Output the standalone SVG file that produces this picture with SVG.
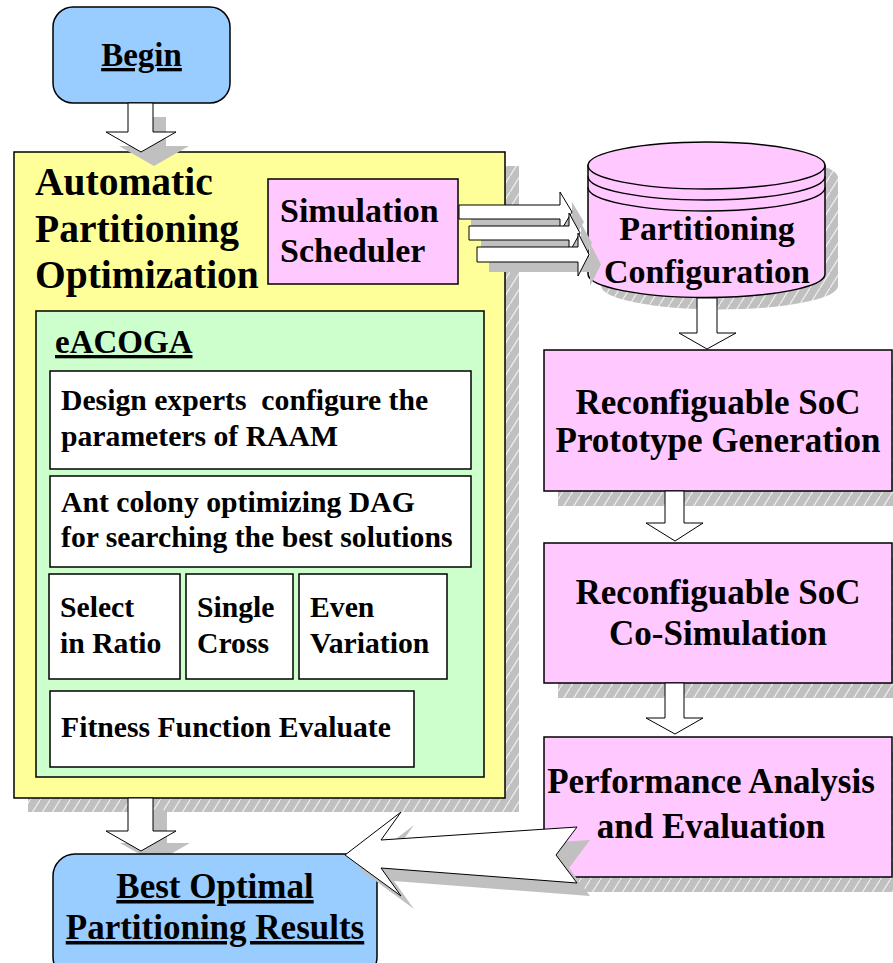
<svg xmlns="http://www.w3.org/2000/svg" width="893" height="963" viewBox="0 0 893 963">
  <defs>
    <pattern id="hatch" patternUnits="userSpaceOnUse" width="10" height="16">
      <rect width="10" height="16" fill="#C0C0C0"/>
      <line x1="0" y1="16" x2="10" y2="0" stroke="#EDEDED" stroke-width="1.2"/>
    </pattern>
  </defs>
  <style>
    text { font-family: "Liberation Serif", "Times New Roman", Tinos, serif; font-weight: bold; fill: #000; }
    .box { stroke: #000; stroke-width: 1.5; }
    .pink { fill: #FFC8FF; }
    .blue { fill: #99CCFF; }
    .yellow { fill: #FFFF99; }
    .green { fill: #CCFFCC; }
    .white { fill: #FFFFFF; }
    .hatch { fill: url(#hatch); }
    .shadow { fill: #C0C0C0; }
    .arrow { fill: #FFFFFF; stroke: #000; stroke-width: 1; stroke-linejoin: miter; }
    .t39 { font-size: 39.5px; }
    .t35 { font-size: 35px; }
    .t34 { font-size: 34px; }
    .t33 { font-size: 33px; }
    .t29 { font-size: 29.7px; }
    .u { text-decoration: underline; }
    .mid { text-anchor: middle; }
  </style>

  <g font-family="'Liberation Serif', 'Times New Roman', serif">

  <!-- drop shadows -->
  <g id="shadows">
    <rect class="hatch" x="28" y="166" width="491" height="646"/>
    <path class="hatch" d="M601,177.5 L601,286 A118.5,23.5 0 0 0 838,286 L838,177.5 A118.5,23.5 0 0 0 601,177.5 Z"/>
    <rect class="hatch" x="558" y="365" width="350" height="141"/>
    <rect class="hatch" x="558" y="558" width="350" height="140"/>
    <rect class="hatch" x="558" y="752" width="350" height="140"/>
  </g>

  <!-- start node -->
  <g id="begin">
    <rect class="box blue" x="53" y="7" width="177" height="96" rx="20" ry="20"/>
    <text class="t33 mid u" x="141.5" y="66">Begin</text>
  </g>

  <!-- optimisation container -->
  <g id="optimization">
    <rect class="box yellow" x="14" y="152" width="491" height="646"/>
    <text class="t39" x="35" y="195">Automatic</text>
    <text class="t39" x="35" y="242">Partitioning</text>
    <text class="t39" x="35" y="288">Optimization</text>
  </g>

  <g id="scheduler">
    <rect class="box pink" x="268" y="179" width="190" height="105"/>
    <text class="t34" x="280" y="222">Simulation</text>
    <text class="t34" x="280" y="262">Scheduler</text>
  </g>

  <g id="eacoga">
    <rect class="box green" x="36" y="311" width="448" height="466"/>
    <text class="t33 u" x="55" y="353">eACOGA</text>
  </g>

  <g id="configure">
    <rect class="box white" x="50" y="371" width="421" height="98"/>
    <text class="t29" x="61" y="410" xml:space="preserve">Design experts  configure the</text>
    <text class="t29" x="61" y="446">parameters of RAAM</text>
  </g>

  <g id="antcolony">
    <rect class="box white" x="50" y="476" width="421" height="91"/>
    <text class="t29" x="61" y="512">Ant colony optimizing DAG</text>
    <text class="t29" x="61" y="547">for searching the best solutions</text>
  </g>

  <g id="select">
    <rect class="box white" x="49" y="574" width="131" height="105"/>
    <text class="t29" x="60" y="617">Select</text>
    <text class="t29" x="60" y="653">in Ratio</text>
  </g>

  <g id="cross">
    <rect class="box white" x="186" y="574" width="107" height="105"/>
    <text class="t29" x="197" y="617">Single</text>
    <text class="t29" x="197" y="653">Cross</text>
  </g>

  <g id="variation">
    <rect class="box white" x="299" y="574" width="148" height="105"/>
    <text class="t29" x="310" y="617">Even</text>
    <text class="t29" x="310" y="653">Variation</text>
  </g>

  <g id="fitness">
    <rect class="box white" x="50" y="691" width="364" height="76"/>
    <text class="t29" x="61" y="737">Fitness Function Evaluate</text>
  </g>

  <!-- database cylinder -->
  <g id="config">
    <path class="box pink" d="M588,165.5 L588,274 A118.5,23.5 0 0 0 825,274 L825,165.5 Z"/>
    <ellipse class="box pink" cx="706.5" cy="165.5" rx="118.5" ry="23.5"/>
    <path fill="none" stroke="#000" stroke-width="1.5" d="M588,176.5 A118.5,23.5 0 0 0 825,176.5 M588,187.5 A118.5,23.5 0 0 0 825,187.5"/>
    <text class="t34 mid" x="707" y="240">Partitioning</text>
    <text class="t34 mid" x="707" y="283">Configuration</text>
  </g>

  <g id="prototype">
    <rect class="box pink" x="544" y="350" width="348" height="141"/>
    <text class="t35 mid" x="718" y="414">Reconfiguable SoC</text>
    <text class="t35 mid" x="718" y="452">Prototype Generation</text>
  </g>

  <g id="cosim">
    <rect class="box pink" x="544" y="543" width="348" height="140"/>
    <text class="t35 mid" x="718" y="604">Reconfiguable SoC</text>
    <text class="t35 mid" x="718" y="645">Co-Simulation</text>
  </g>

  <g id="analysis">
    <rect class="box pink" x="544" y="737" width="348" height="140"/>
    <text class="t35 mid" x="711" y="793">Performance Analysis</text>
    <text class="t35 mid" x="711" y="838">and Evaluation</text>
  </g>

  <!-- connectors (block arrows) -->
  <g id="connectors">
    <!-- begin to optimisation -->
    <polygon class="shadow" points="141,117 166,117 166,146 189,146 154,166 119,146 141,146"/>
    <polygon class="arrow" points="128,103 153,103 153,132 176,132 141,152 106,132 128,132"/>

    <!-- scheduler to configuration -->
    <polygon class="shadow" points="471,215 572,215 572,202 584,222 572,242 572,229 471,229"/>
    <polygon class="shadow" points="481,236 581,236 581,223 592,243 581,263 581,250 481,250"/>
    <polygon class="shadow" points="489,257 590,257 590,243 601,264.5 590,286 590,272 489,272"/>
    <polygon class="arrow" points="459,205 560,205 560,192 572,212 560,232 560,219 459,219"/>
    <polygon class="arrow" points="469,226 569,226 569,213 580,233 569,253 569,240 469,240"/>
    <polygon class="arrow" points="477,247 578,247 578,233 589,254.5 578,276 578,262 477,262"/>

    <!-- right column -->
    <polygon class="arrow" points="697,298 717,298 717,333 736,333 707,349 679,333 697,333"/>
    <polygon class="arrow" points="665,491 684,491 684,523 703,523 675,541 646,523 665,523"/>
    <polygon class="arrow" points="665,683 684,683 684,718 703,718 675,734 646,718 665,718"/>

    <!-- optimisation to results -->
    <polygon class="shadow" points="142,810 167,810 167,843 190,843 155,863 120,843 142,843"/>
  </g>

  <!-- result node -->
  <g id="result">
    <rect class="box blue" x="53" y="854" width="324" height="125" rx="22" ry="22"/>
    <text class="t35 mid u" x="215" y="898">Best Optimal</text>
    <text class="t35 mid u" x="215" y="939">Partitioning Results</text>
  </g>

  <g id="connectors-front">
    <polygon class="arrow" points="128,798 153,798 153,831 176,831 141,851 106,831 128,831"/>
    <!-- analysis feedback to results -->
    <polygon class="shadow" points="358,868 414,825 394,853 590,840 569,868 590,896 394,881 414,909"/>
    <polygon class="arrow" points="345,855 401,812 381,840 577,827 556,855 577,883 381,868 401,896"/>
  </g>

  </g>
</svg>
